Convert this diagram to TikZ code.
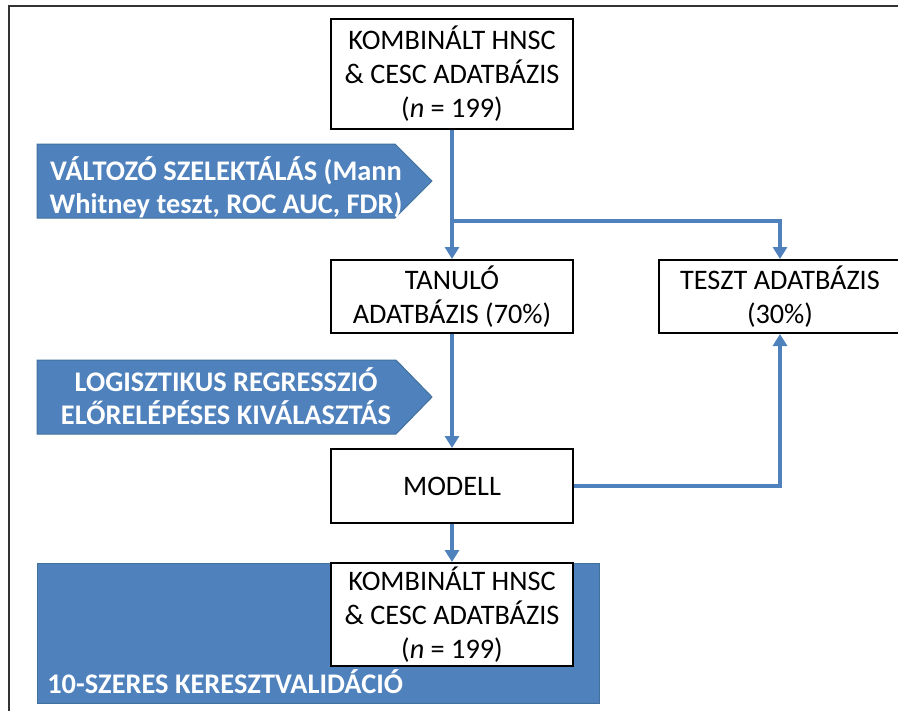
\documentclass[tikz,border=0pt]{standalone}
\usepackage{fontspec}
\setmainfont{Carlito}
\usetikzlibrary{arrows.meta}
\definecolor{obl}{HTML}{4F81BD}
\definecolor{obld}{HTML}{41719C}
\begin{document}
\begin{tikzpicture}[x=0.75pt,y=-0.75pt,
  box/.style={draw=black,line width=1.5pt,fill=white,inner sep=0pt,minimum width=181.5pt,align=center,font=\fontsize{21.2}{25.5}\selectfont},
  conn/.style={draw=obl,line width=2.6pt,-{Triangle[width=10.5pt,length=9pt]}},
  band/.style={fill=obl,draw=obld,line width=0.75pt},
  bandtext/.style={text=white,font=\fontsize{21.3}{25}\selectfont\bfseries,align=center,inner sep=0pt}]
\useasboundingbox (0,0) rectangle (898,710);
\clip (0,0) rectangle (898,710);
\fill[white] (0,0) rectangle (898,710);
\draw[line width=1.2pt,black!80] (9,715) -- (9,6) -- (905,6);
% blue arrow shapes
\draw[band] (37,144) -- (395,144) -- (432,181) -- (395,218) -- (37,218) -- cycle;
\node[bandtext] (sel) at (226,187) {VÁLTOZÓ SZELEKTÁLÁS (Mann\\Whitney teszt, ROC AUC, FDR)};
\draw[band] (37,360) -- (396,360) -- (432,397) -- (396,434) -- (37,434) -- cycle;
\node[bandtext] (log) at (226,396) {LOGISZTIKUS REGRESSZIÓ\\ELŐRELÉPÉSES KIVÁLASZTÁS};
% cross-validation band
\draw[band] (37,563) rectangle (599,703);
\node[bandtext,anchor=west] (kvt) at (47,682) {10-SZERES KERESZTVALIDÁCIÓ};
% boxes
\node[box,minimum height=82.5pt] (db1) at (452,74) {KOMBINÁLT HNSC\\\& CESC ADATBÁZIS\\(\textit{n} = 199)};
\node[box,minimum height=54.75pt] (tan) at (452,296.5) {TANULÓ\\ADATBÁZIS (70\%)};
\node[box,minimum height=54.75pt] (teszt) at (780,296.5) {TESZT ADATBÁZIS\\(30\%)};
\node[box,minimum height=55.5pt] (mod) at (452,486) {MODELL};
\node[box,minimum height=77.25pt] (db2) at (452,614.5) {KOMBINÁLT HNSC\\\& CESC ADATBÁZIS\\(\textit{n} = 199)};
% connectors
\coordinate (br) at (452,221);
\draw[conn] (db1) -- (tan);
\draw[conn] (br) -| (teszt);
\draw[conn] (tan) -- (mod);
\draw[conn] (mod.east) -| (teszt);
\draw[conn] (mod) -- (db2);
\end{tikzpicture}
\end{document}
